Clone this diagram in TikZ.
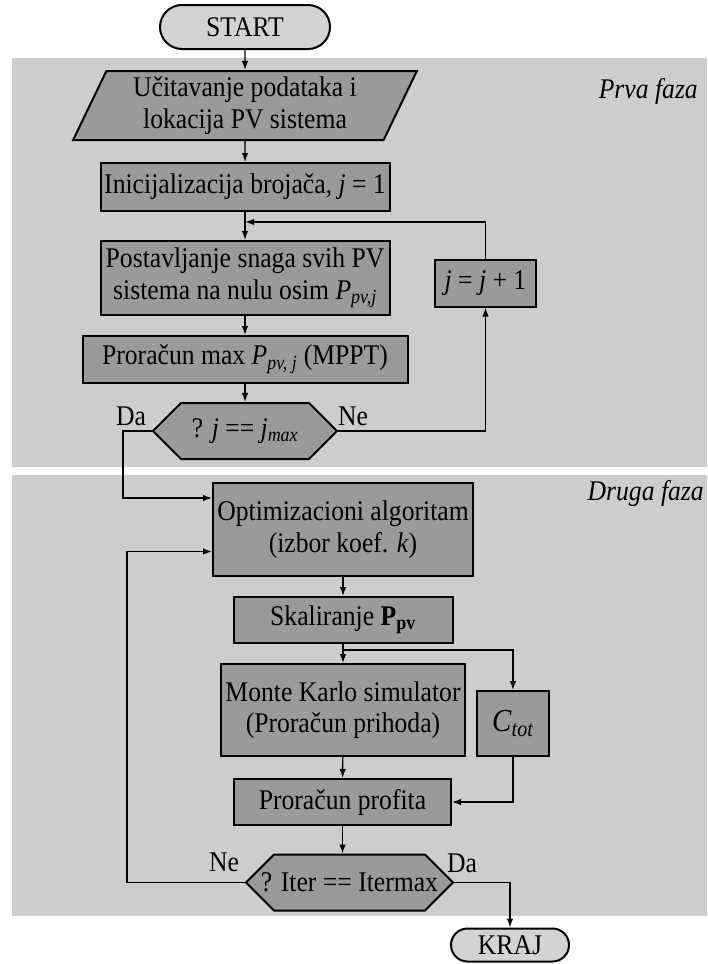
\documentclass[tikz,border=0pt]{standalone}
\usepackage{fontspec}
\setmainfont{Liberation Serif}[FakeStretch=0.9]
\usepackage{tikz}
\usetikzlibrary{shapes.geometric,shapes.symbols,arrows.meta}
\definecolor{BandGray}{HTML}{CDCDCD}
\definecolor{BoxGray}{HTML}{9A9A9A}
\definecolor{TermGray}{HTML}{D3D3D3}

\begin{document}
\begin{tikzpicture}[
    x=1pt, y=-1pt,
    every node/.style={
        font=\fontsize{28.5}{31.5}\selectfont,
        align=center,
        inner sep=2pt
    },
    proc/.style={
        rectangle,
        draw=black,
        fill=BoxGray,
        line width=2pt
    },
    term/.style={
        rectangle,
        draw=black,
        fill=TermGray,
        line width=2pt
    },
    io/.style={
        trapezium,
        trapezium left angle=66,
        trapezium right angle=114,
        trapezium stretches=true,
        draw=black,
        fill=BoxGray,
        line width=2pt
    },
    decision/.style={
        signal,
        signal to=west and east,
        draw=black,
        fill=BoxGray,
        line width=2pt,
        minimum height=56
    },
    phase/.style={
        font=\fontsize{28.5}{31.5}\selectfont\itshape,
        anchor=east
    },
    tag/.style={
        inner sep=0pt
    },
    arr/.style={
        -{Latex[length=9pt,width=6.5pt]},
        line width=1.4pt
    }
]
\useasboundingbox (0,0) rectangle (707,964);

% faze
\fill[BandGray] (12,58) rectangle (707,467);
\fill[BandGray] (12,475) rectangle (707,916);
\node[phase] (prva) at (700,91) {Prva faza};
\node[phase] (druga) at (706,493) {Druga faza};

% prva faza
\node[term, rounded corners=22, minimum width=170, minimum height=44] (start) at (245,27) {START};
\node[io, minimum width=344, minimum height=69] (input) at (245,105.5) {Učitavanje podataka i\\lokacija PV sistema};
\node[proc, minimum width=289, minimum height=48] (init) at (245,187) {Inicijalizacija brojača, \textit{j} = 1};
\node[proc, minimum width=289, minimum height=74] (setp) at (245,278) {Postavljanje snaga svih PV\\sistema na nulu osim \textit{P}\textsubscript{\textit{pv,j}}};
\node[proc, minimum width=325, minimum height=47] (mppt) at (245,359.5) {Proračun max \textit{P}\textsubscript{\textit{pv, j}} (MPPT)};
\node[decision, minimum width=184] (dec1) at (245,431) {\makebox[0pt]{? \textit{j} == \textit{j}\textsubscript{\textit{max}}}};
\node[proc, minimum width=101, minimum height=47] (incr) at (485.5,283) {\textit{j} = \textit{j} + 1};

\node[tag] (da1) at (131,416) {Da};
\node[tag] (ne1) at (353,416) {Ne};

\coordinate (join) at (245,222);
\coordinate (daturn) at (123,431);

\draw[arr] (start) -- (input);
\draw[arr] (input) -- (init);
\draw[arr] (init) -- (setp);
\draw[arr] (setp) -- (mppt);
\draw[arr] (mppt) -- (dec1);
\draw[arr] (dec1.east) -| (incr.south);
\draw[arr] (incr.north) |- (join);

% druga faza
\node[proc, minimum width=260, minimum height=93] (opt) at (343,529.5) {Optimizacioni algoritam\\(izbor koef. \textit{k})};
\node[proc, minimum width=219, minimum height=46] (scal) at (343,620) {Skaliranje \textbf{P}\textsubscript{\textbf{pv}}};
\node[proc, minimum width=244, minimum height=92] (mc) at (343,710) {Monte Karlo simulator\\(Proračun prihoda)};
\node[proc, minimum width=72, minimum height=65, font=\fontsize{32}{36}\selectfont] (ctot) at (513,723.5) {\textit{C}\textsubscript{\textit{tot}}};
\node[proc, minimum width=217, minimum height=46] (prof) at (342.5,802) {Proračun profita};
\node[decision, minimum width=207] (dec2) at (349.5,882.5) {\makebox[0pt]{? Iter == Itermax}};
\node[term, rounded corners=16.5, minimum width=118, minimum height=33] (kraj) at (510,945) {KRAJ};

\node[tag] (ne2) at (224,862) {Ne};
\node[tag] (da2) at (462,863) {Da};

\coordinate (split) at (343,650);
\coordinate (neturn) at (127,882.5);

\draw[arr] (dec1.west) -- (daturn) |- ([yshift=31.5pt]opt.west);
\draw[arr] (opt) -- (scal);
\draw[arr] (scal) -- (mc);
\draw[arr] (split) -| (ctot.north);
\draw[arr] (mc) -- (prof);
\draw[arr] (ctot.south) |- (prof.east);
\draw[arr] (prof) -- (prof |- dec2.north);
\draw[arr] (dec2.west) -- (neturn) |- ([yshift=-22pt]opt.west);
\draw[arr] (dec2.east) -| (kraj.north);

\end{tikzpicture}
\end{document}
